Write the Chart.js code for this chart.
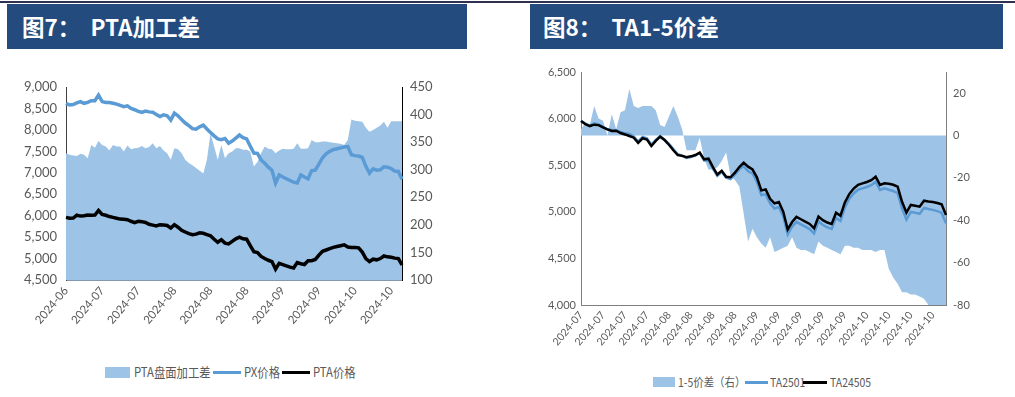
<!DOCTYPE html>
<html>
<head>
<meta charset="utf-8">
<script src="https://cdn.jsdelivr.net/npm/chart.js@4.4.1/dist/chart.umd.min.js"></script>
<style>
  body { margin: 0; width: 1015px; height: 397px; background: #fff; position: relative; overflow: hidden; font-family: 'Noto Sans CJK SC', sans-serif; }
  .topline { position: absolute; left: 0; top: 1px; width: 1015px; height: 2px; background: #2f3150; }
  .head { position: absolute; top: 4px; height: 45px; background: #234b7d; color: #fff; font-weight: bold; font-size: 22.5px; line-height: 45px; white-space: pre; box-sizing: border-box; }
  .box { position: absolute; }
  .lg { position: absolute; color: #595959; white-space: nowrap; transform: scaleX(0.87); transform-origin: left center; line-height: 1; }
  .mk { position: absolute; }
</style>
</head>
<body>
<div class="topline"></div>
<div class="head" style="left:7px;width:460px;padding-left:15px;">图7：  PTA加工差</div>
<div class="head" style="left:530px;width:473px;padding-left:13px;">图8：  TA1-5价差</div>

<div class="box" style="left:0;top:55px;width:500px;height:300px;"><canvas id="left"></canvas></div>
<div class="box" style="left:520px;top:55px;width:495px;height:305px;"><canvas id="right"></canvas></div>

<!-- legend 图7 -->
<div class="mk" style="left:105px;top:367px;width:25px;height:11px;background:#9dc3e6;"></div>
<div class="lg" style="left:134px;top:365px;font-size:13px;">PTA盘面加工差</div>
<div class="mk" style="left:213px;top:371px;width:28px;height:3px;background:#5b9bd5;"></div>
<div class="lg" style="left:244px;top:365px;font-size:13px;">PX价格</div>
<div class="mk" style="left:282px;top:371px;width:28px;height:3px;background:#000;"></div>
<div class="lg" style="left:313px;top:365px;font-size:13px;">PTA价格</div>

<!-- legend 图8 -->
<div class="mk" style="left:653px;top:377px;width:22px;height:10px;background:#9dc3e6;"></div>
<div class="lg" style="left:678px;top:376px;font-size:12px;">1-5价差（右）</div>
<div class="mk" style="left:745px;top:381px;width:23px;height:3px;background:#5b9bd5;"></div>
<div class="lg" style="left:770px;top:376px;font-size:12px;">TA2501</div>
<div class="mk" style="left:803px;top:381px;width:24px;height:3px;background:#000;"></div>
<div class="lg" style="left:830px;top:376px;font-size:12px;">TA24505</div>

<script>
// ---- 图7 PTA加工差 ----
const leftTicks = ['2024-06', '2024-07', '2024-07', '2024-08', '2024-08', '2024-08', '2024-09', '2024-09', '2024-10', '2024-10'];

const pxPrice = [
  8620, 8580, 8590, 8630, 8660, 8620, 8640, 8680, 8680, 8810,
  8660, 8640, 8640, 8620, 8600, 8570, 8540, 8560, 8500, 8470,
  8430, 8410, 8440, 8420, 8410, 8360, 8310, 8350, 8330, 8230,
  8390, 8330, 8240, 8160, 8100, 8030, 8015, 8070, 8110, 8020,
  7940, 7860, 7790, 7770, 7800, 7690, 7740, 7810, 7880, 7820,
  7790, 7620, 7460, 7450, 7300, 7220, 7130, 7060, 6760, 6950,
  6900, 6860, 6820, 6780, 6760, 6950, 6900, 6860, 7050, 7060,
  7200, 7350, 7440, 7500, 7540, 7560, 7580, 7600, 7610, 7420,
  7400, 7390, 7360, 7150, 6990, 7090, 7060, 7070, 7140, 7130,
  7100, 7040, 7030, 6850
];

const ptaPrice = [
  5960, 5940, 5945, 6010, 5990, 6000, 6015, 6010, 6015, 6120,
  6030, 6010, 5980, 5960, 5940, 5920, 5915, 5905, 5870, 5840,
  5870, 5860, 5840, 5800, 5780, 5760, 5790, 5780, 5770, 5710,
  5790, 5730, 5660, 5620, 5580, 5555, 5570, 5600, 5590, 5560,
  5530, 5450, 5380, 5440, 5360, 5340, 5400, 5460, 5500, 5460,
  5450, 5300, 5160, 5140, 5050, 5000, 4960, 4930, 4755, 4890,
  4860, 4830, 4800, 4780, 4905, 4880, 4860, 4950, 4950, 4980,
  5080, 5170, 5200, 5230, 5260, 5280, 5300, 5320, 5270, 5260,
  5260, 5250, 5150, 5000, 4930, 4985, 4970, 5000, 5060, 5040,
  5030, 5010, 5000, 4850
];

const ptaMargin = [
  330, 327, 326, 325, 329, 327, 321, 345, 340, 352,
  345, 342, 335, 345, 342, 342, 333, 344, 337, 339,
  340, 343, 339, 341, 348, 339, 343, 335, 330, 318,
  339, 337, 330, 318, 312, 308, 303, 298, 293, 318,
  366, 342, 318, 345, 321, 330, 333, 339, 339, 336,
  336, 333, 306, 314, 330, 342, 338, 337, 330, 335,
  338, 337, 337, 338, 348, 338, 338, 339, 354, 350,
  350, 351, 351, 350, 349, 348, 347, 345, 354, 391,
  389, 388, 387, 376, 369, 372, 376, 380, 387, 376,
  388, 388, 388, 388
];

// ---- 图8 TA1-5价差 ----
const rightTicks = ['2024-07', '2024-07', '2024-07', '2024-07', '2024-08', '2024-08', '2024-08', '2024-08',
  '2024-09', '2024-09', '2024-09', '2024-09', '2024-09', '2024-10', '2024-10', '2024-10', '2024-10'];

const ta2505 = [
  5974, 5940, 5920, 5935, 5930, 5905, 5885, 5867, 5870, 5845,
  5830, 5813, 5795, 5740, 5789, 5775, 5706, 5760, 5806, 5770,
  5720, 5660, 5609, 5600, 5585, 5595, 5609, 5634, 5563, 5570,
  5480, 5400, 5440, 5375, 5370, 5420, 5480, 5527, 5484, 5456,
  5370, 5230, 5240, 5140, 5090, 5105, 5000, 4810, 4890, 4945,
  4920, 4894, 4870, 4823, 4948, 4910, 4885, 4870, 4990, 4958,
  5100, 5190, 5250, 5290, 5305, 5320, 5340, 5377, 5288, 5306,
  5300, 5290, 5270, 5108, 4990, 5073, 5065, 5055, 5119, 5110,
  5105, 5095, 5080, 4966
];

const ta2501 = [
  5977, 5946, 5925, 5949, 5938, 5912, 5885, 5877, 5873, 5856,
  5842, 5835, 5809, 5753, 5803, 5789, 5720, 5772, 5811, 5774,
  5729, 5674, 5618, 5603, 5578, 5588, 5602, 5633, 5552, 5554,
  5464, 5385, 5428, 5367, 5351, 5399, 5456, 5490, 5434, 5412,
  5322, 5179, 5187, 5092, 5035, 5051, 4947, 4758, 4842, 4892,
  4866, 4840, 4815, 4767, 4898, 4858, 4832, 4816, 4935, 4902,
  5048, 5138, 5197, 5237, 5251, 5266, 5286, 5322, 5234, 5252,
  5237, 5223, 5200, 5034, 4916, 4998, 4990, 4979, 5042, 5030,
  5021, 5007, 4990, 4876
];

const spread15 = [
  3, 6, 5, 14, 8, 7, 0, 10, 3, 11,
  12, 22, 14, 13, 14, 14, 14, 12, 5, 4,
  9, 14, 9, 3, -7, -7, -7, -1, -11, -16,
  -16, -15, -12, -8, -19, -21, -24, -37, -50, -44,
  -48, -51, -53, -48, -55, -54, -53, -52, -48, -53,
  -54, -54, -55, -56, -50, -52, -53, -54, -55, -56,
  -52, -52, -53, -53, -54, -54, -54, -55, -54, -54,
  -63, -67, -70, -74, -74, -75, -75, -76, -77, -80,
  -84, -88, -90, -90
];

const tickFont = 'Lato';
const grey = '#595959';
const fmt = v => Number(v).toLocaleString('en-US');

function spacedLabels(n, ticks, every) {
  return Array.from({ length: n }, (_, i) => (i % every === 0 && ticks[i / every]) ? ticks[i / every] : '');
}

function yAxis(pos, min, max, step, width, pad, size, borderColor) {
  return {
    position: pos,
    min: min,
    max: max,
    grid: { display: false, drawTicks: false },
    border: { display: true, color: borderColor, width: 1 },
    ticks: { stepSize: step, includeBounds: false, color: grey, padding: pad, font: { family: tickFont, size: size }, callback: fmt },
    afterFit: s => { s.width = width; }
  };
}

function xAxis(height, size, borderColor) {
  return {
    grid: { display: false, drawTicks: false },
    border: { display: true, color: borderColor, width: 1 },
    ticks: { autoSkip: false, maxRotation: 50, minRotation: 50, color: grey, padding: 4, font: { family: tickFont, size: size } },
    afterFit: s => { s.height = height; }
  };
}

new Chart(document.getElementById('left'), {
  type: 'line',
  data: {
    labels: spacedLabels(pxPrice.length, leftTicks, 10),
    datasets: [
      { label: 'PTA价格', data: ptaPrice, yAxisID: 'y', borderColor: '#000000', borderWidth: 3.5, pointRadius: 0, tension: 0, order: 0 },
      { label: 'PX价格', data: pxPrice, yAxisID: 'y', borderColor: '#5b9bd5', borderWidth: 3.5, pointRadius: 0, tension: 0, order: 1 },
      { label: 'PTA盘面加工差', data: ptaMargin, yAxisID: 'y1', borderWidth: 0, backgroundColor: '#9dc3e6', fill: 'start', pointRadius: 0, tension: 0, order: 2 }
    ]
  },
  options: {
    responsive: true,
    maintainAspectRatio: false,
    animation: false,
    layout: { padding: { top: 32, left: 0, right: 0, bottom: 0 } },
    plugins: { legend: { display: false }, tooltip: { enabled: false } },
    scales: {
      x: xAxis(75, 11.5, '#8497b0'),
      y: yAxis('left', 4500, 9000, 500, 66, 9, 13, '#404040'),
      y1: yAxis('right', 100, 450, 50, 98, 8, 13, '#000000')
    }
  }
});

new Chart(document.getElementById('right'), {
  type: 'line',
  data: {
    labels: spacedLabels(ta2505.length, rightTicks, 5),
    datasets: [
      { label: 'TA24505', data: ta2505, yAxisID: 'y', borderColor: '#000000', borderWidth: 2.5, pointRadius: 0, tension: 0, order: 0 },
      { label: 'TA2501', data: ta2501, yAxisID: 'y', borderColor: '#5b9bd5', borderWidth: 2.5, pointRadius: 0, tension: 0, order: 1 },
      { label: '1-5价差（右）', data: spread15, yAxisID: 'y1', borderWidth: 0, backgroundColor: '#9dc3e6', fill: 'origin', pointRadius: 0, tension: 0, order: 2 }
    ]
  },
  options: {
    responsive: true,
    maintainAspectRatio: false,
    animation: false,
    layout: { padding: { top: 17, left: 0, right: 0, bottom: 0 } },
    plugins: { legend: { display: false }, tooltip: { enabled: false } },
    scales: {
      x: xAxis(55, 10.5, '#7f7f7f'),
      y: yAxis('left', 4000, 6500, 500, 61, 5, 11, '#7f7f7f'),
      y1: yAxis('right', -80, 30, 20, 69, 7, 11, '#7f7f7f')
    }
  }
});
</script>
</body>
</html>
